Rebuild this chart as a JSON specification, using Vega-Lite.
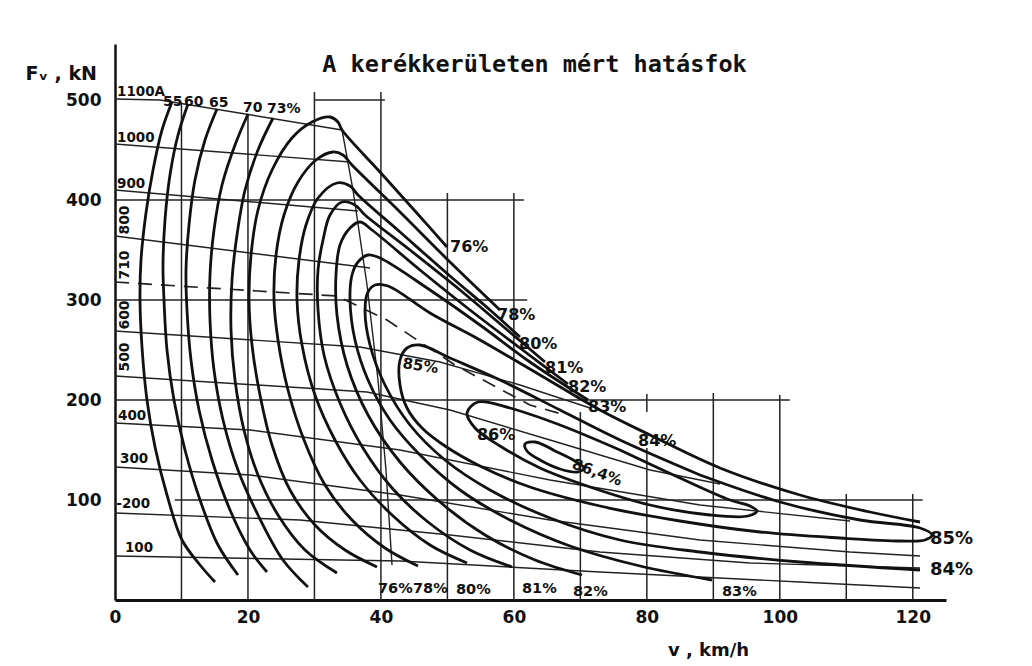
{
  "$schema": "https://vega.github.io/schema/vega-lite/v6.json",
  "width": 831,
  "height": 556,
  "autosize": "none",
  "padding": {"left": 115, "top": 44, "right": 86, "bottom": 66},
  "background": "white",
  "config": {"view": {"stroke": null}, "font": "DejaVu Sans"},
  "title": {"text": "A  kerékkerületen  mért  hatásfok", "font": "DejaVu Sans Mono", "fontSize": 23.5, "fontWeight": "bold", "color": "#111", "anchor": "middle", "dx": 4, "dy": 51, "offset": 0, "baseline": "alphabetic"},
  "encoding": {
    "x": {"field": "v", "type": "quantitative", "scale": {"domain": [0, 125], "nice": false, "zero": false},
      "axis": {"values": [0, 20, 40, 60, 80, 100, 120], "ticks": false, "grid": false, "labelFontSize": 17, "labelFontWeight": "bold", "labelPadding": 9, "labelColor": "#111", "labelFlush": false, "labelOverlap": false, "domainColor": "#111", "domainWidth": 3, "title": "v , km/h", "titleX": 593, "titleY": 55, "titleAngle": 0, "titleBaseline": "alphabetic", "titleAlign": "center", "titleFontSize": 18, "titleFontWeight": "bold", "titleColor": "#111"}},
    "y": {"field": "F", "type": "quantitative", "scale": {"domain": [0, 556], "nice": false, "zero": false},
      "axis": {"values": [100, 200, 300, 400, 500], "ticks": false, "grid": false, "labelFontSize": 17, "labelFontWeight": "bold", "labelPadding": 14, "labelColor": "#111", "labelOverlap": false, "domainColor": "#111", "domainWidth": 2.5, "title": "Fᵥ , kN", "titleX": -90, "titleY": 35, "titleAngle": 0, "titleAlign": "left", "titleBaseline": "alphabetic", "titleFontSize": 19, "titleFontWeight": "bold", "titleColor": "#111"}}
  },
  "layer": [
    {
      "data": {"values": [
        {"v": 10, "F": 0, "v2": 10, "F2": 496},
        {"v": 20, "F": 0, "v2": 20, "F2": 486},
        {"v": 30, "F": 0, "v2": 30, "F2": 508},
        {"v": 40, "F": 0, "v2": 40, "F2": 508},
        {"v": 50, "F": 0, "v2": 50, "F2": 407},
        {"v": 60, "F": 0, "v2": 60, "F2": 407},
        {"v": 70, "F": 0, "v2": 70, "F2": 188},
        {"v": 80, "F": 0, "v2": 80, "F2": 152},
        {"v": 80, "F": 188, "v2": 80, "F2": 206},
        {"v": 90, "F": 0, "v2": 90, "F2": 207},
        {"v": 100, "F": 0, "v2": 100, "F2": 205},
        {"v": 110, "F": 0, "v2": 110, "F2": 106},
        {"v": 120, "F": 0, "v2": 120, "F2": 106},
        {"v": 30, "F": 500, "v2": 40.6, "F2": 500},
        {"v": 0, "F": 400, "v2": 61.5, "F2": 400},
        {"v": 0, "F": 300, "v2": 62, "F2": 300},
        {"v": 0, "F": 200, "v2": 101.5, "F2": 200},
        {"v": 9, "F": 100, "v2": 121.5, "F2": 100}
      ]},
      "mark": {"type": "rule", "strokeWidth": 1.5, "color": "#222"},
      "encoding": {"x2": {"field": "v2"}, "y2": {"field": "F2"}}
    },
    {
      "data": {"values": [
        {"c": "1100A", "i": 0, "v": 0, "F": 501}, {"c": "1100A", "i": 1, "v": 6.77, "F": 500}, {"c": "1100A", "i": 2, "v": 34.15, "F": 470},
        {"c": "1000A", "i": 0, "v": 0, "F": 456}, {"c": "1000A", "i": 1, "v": 35.35, "F": 438},
        {"c": "900A", "i": 0, "v": 0, "F": 410}, {"c": "900A", "i": 1, "v": 36.55, "F": 389},
        {"c": "800A", "i": 0, "v": 0, "F": 364}, {"c": "800A", "i": 1, "v": 38.36, "F": 332},
        {"c": "600A", "i": 0, "v": 0, "F": 269}, {"c": "600A", "i": 1, "v": 36.85, "F": 253}, {"c": "600A", "i": 2, "v": 48.89, "F": 238}, {"c": "600A", "i": 3, "v": 60.92, "F": 215}, {"c": "600A", "i": 4, "v": 71.45, "F": 192},
        {"c": "500A", "i": 0, "v": 0, "F": 224}, {"c": "500A", "i": 1, "v": 37.91, "F": 208}, {"c": "500A", "i": 2, "v": 50.39, "F": 190}, {"c": "500A", "i": 3, "v": 65.43, "F": 160}, {"c": "500A", "i": 4, "v": 80.48, "F": 130}, {"c": "500A", "i": 5, "v": 91.0, "F": 116},
        {"c": "400A", "i": 0, "v": 0, "F": 177}, {"c": "400A", "i": 1, "v": 20.31, "F": 170}, {"c": "400A", "i": 2, "v": 42.87, "F": 150}, {"c": "400A", "i": 3, "v": 65.43, "F": 120}, {"c": "400A", "i": 4, "v": 88.0, "F": 95}, {"c": "400A", "i": 5, "v": 110.56, "F": 79},
        {"c": "300A", "i": 0, "v": 0, "F": 133}, {"c": "300A", "i": 1, "v": 20.31, "F": 125}, {"c": "300A", "i": 2, "v": 42.87, "F": 105}, {"c": "300A", "i": 3, "v": 65.43, "F": 80}, {"c": "300A", "i": 4, "v": 88.0, "F": 60}, {"c": "300A", "i": 5, "v": 110.56, "F": 48}, {"c": "300A", "i": 6, "v": 121.09, "F": 44},
        {"c": "200A", "i": 0, "v": 0, "F": 87}, {"c": "200A", "i": 1, "v": 27.83, "F": 80}, {"c": "200A", "i": 2, "v": 50.39, "F": 65}, {"c": "200A", "i": 3, "v": 72.95, "F": 48}, {"c": "200A", "i": 4, "v": 95.52, "F": 37}, {"c": "200A", "i": 5, "v": 121.09, "F": 32},
        {"c": "100A", "i": 0, "v": 0, "F": 44}, {"c": "100A", "i": 1, "v": 42.87, "F": 39}, {"c": "100A", "i": 2, "v": 72.95, "F": 28}, {"c": "100A", "i": 3, "v": 103.04, "F": 18}, {"c": "100A", "i": 4, "v": 121.09, "F": 12},
        {"c": "slant", "i": 0, "v": 34.15, "F": 470}, {"c": "slant", "i": 1, "v": 35.8, "F": 410}, {"c": "slant", "i": 2, "v": 37.91, "F": 315}, {"c": "slant", "i": 3, "v": 39.56, "F": 220}, {"c": "slant", "i": 4, "v": 40.76, "F": 130}, {"c": "slant", "i": 5, "v": 41.67, "F": 35}
      ]},
      "mark": {"type": "line", "strokeWidth": 1.4, "color": "#222"},
      "encoding": {"detail": {"field": "c"}, "order": {"field": "i", "type": "quantitative"}}
    },
    {
      "data": {"values": [
        {"c": "710A", "i": 0, "v": 0, "F": 318}, {"c": "710A", "i": 1, "v": 33.39, "F": 304}, {"c": "710A", "i": 2, "v": 40.91, "F": 280}, {"c": "710A", "i": 3, "v": 51.14, "F": 235}, {"c": "710A", "i": 4, "v": 62.42, "F": 195}, {"c": "710A", "i": 5, "v": 67.69, "F": 185}
      ]},
      "mark": {"type": "line", "strokeWidth": 1.7, "color": "#222", "strokeDash": [14, 9]},
      "encoding": {"detail": {"field": "c"}, "order": {"field": "i", "type": "quantitative"}}
    },
    {
      "data": {"values": [
        {"c": "55", "i": 0, "v": 8.57, "F": 498}, {"c": "55", "i": 1, "v": 7.07, "F": 470}, {"c": "55", "i": 2, "v": 5.72, "F": 430}, {"c": "55", "i": 3, "v": 4.66, "F": 387}, {"c": "55", "i": 4, "v": 3.91, "F": 340}, {"c": "55", "i": 5, "v": 3.76, "F": 300}, {"c": "55", "i": 6, "v": 4.06, "F": 253}, {"c": "55", "i": 7, "v": 4.81, "F": 200}, {"c": "55", "i": 8, "v": 6.02, "F": 153}, {"c": "55", "i": 9, "v": 7.82, "F": 105}, {"c": "55", "i": 10, "v": 10.08, "F": 60}, {"c": "55", "i": 11, "v": 12.79, "F": 35}, {"c": "55", "i": 12, "v": 15.04, "F": 18},
        {"c": "60", "i": 0, "v": 10.98, "F": 496}, {"c": "60", "i": 1, "v": 9.48, "F": 465}, {"c": "60", "i": 2, "v": 8.27, "F": 425}, {"c": "60", "i": 3, "v": 7.52, "F": 380}, {"c": "60", "i": 4, "v": 7.22, "F": 335}, {"c": "60", "i": 5, "v": 7.37, "F": 300}, {"c": "60", "i": 6, "v": 7.82, "F": 250}, {"c": "60", "i": 7, "v": 8.87, "F": 200}, {"c": "60", "i": 8, "v": 10.53, "F": 150}, {"c": "60", "i": 9, "v": 12.79, "F": 100}, {"c": "60", "i": 10, "v": 15.49, "F": 55}, {"c": "60", "i": 11, "v": 18.5, "F": 25},
        {"c": "65", "i": 0, "v": 15.34, "F": 491}, {"c": "65", "i": 1, "v": 13.54, "F": 460}, {"c": "65", "i": 2, "v": 12.03, "F": 420}, {"c": "65", "i": 3, "v": 11.13, "F": 375}, {"c": "65", "i": 4, "v": 10.68, "F": 330}, {"c": "65", "i": 5, "v": 10.83, "F": 290}, {"c": "65", "i": 6, "v": 11.43, "F": 240}, {"c": "65", "i": 7, "v": 12.64, "F": 190}, {"c": "65", "i": 8, "v": 14.59, "F": 140}, {"c": "65", "i": 9, "v": 17.3, "F": 90}, {"c": "65", "i": 10, "v": 20.31, "F": 50}, {"c": "65", "i": 11, "v": 22.86, "F": 28},
        {"c": "70", "i": 0, "v": 20.01, "F": 486}, {"c": "70", "i": 1, "v": 18.05, "F": 455}, {"c": "70", "i": 2, "v": 16.1, "F": 415}, {"c": "70", "i": 3, "v": 14.89, "F": 370}, {"c": "70", "i": 4, "v": 14.29, "F": 325}, {"c": "70", "i": 5, "v": 14.29, "F": 280}, {"c": "70", "i": 6, "v": 14.89, "F": 230}, {"c": "70", "i": 7, "v": 16.25, "F": 180}, {"c": "70", "i": 8, "v": 18.5, "F": 130}, {"c": "70", "i": 9, "v": 21.51, "F": 85}, {"c": "70", "i": 10, "v": 25.27, "F": 40}, {"c": "70", "i": 11, "v": 29.03, "F": 13},
        {"c": "73", "i": 0, "v": 23.77, "F": 482}, {"c": "73", "i": 1, "v": 21.51, "F": 450}, {"c": "73", "i": 2, "v": 19.56, "F": 410}, {"c": "73", "i": 3, "v": 18.35, "F": 365}, {"c": "73", "i": 4, "v": 17.6, "F": 320}, {"c": "73", "i": 5, "v": 17.45, "F": 270}, {"c": "73", "i": 6, "v": 18.05, "F": 220}, {"c": "73", "i": 7, "v": 19.4, "F": 170}, {"c": "73", "i": 8, "v": 21.51, "F": 125}, {"c": "73", "i": 9, "v": 24.52, "F": 85}, {"c": "73", "i": 10, "v": 28.58, "F": 50}, {"c": "73", "i": 11, "v": 33.39, "F": 27},
        {"c": "76", "i": 0, "v": 39.41, "F": 33}, {"c": "76", "i": 1, "v": 34.6, "F": 50}, {"c": "76", "i": 2, "v": 30.08, "F": 75}, {"c": "76", "i": 3, "v": 26.32, "F": 110}, {"c": "76", "i": 4, "v": 23.62, "F": 155}, {"c": "76", "i": 5, "v": 21.81, "F": 205}, {"c": "76", "i": 6, "v": 20.61, "F": 255}, {"c": "76", "i": 7, "v": 20.16, "F": 300}, {"c": "76", "i": 8, "v": 20.46, "F": 345}, {"c": "76", "i": 9, "v": 21.51, "F": 390}, {"c": "76", "i": 10, "v": 23.62, "F": 430}, {"c": "76", "i": 11, "v": 26.62, "F": 462}, {"c": "76", "i": 12, "v": 29.63, "F": 478}, {"c": "76", "i": 13, "v": 32.34, "F": 483}, {"c": "76", "i": 14, "v": 33.54, "F": 478}, {"c": "76", "i": 15, "v": 34.15, "F": 470}, {"c": "76", "i": 16, "v": 39.86, "F": 428}, {"c": "76", "i": 17, "v": 45.13, "F": 389}, {"c": "76", "i": 18, "v": 49.94, "F": 353},
        {"c": "78", "i": 0, "v": 45.58, "F": 34}, {"c": "78", "i": 1, "v": 40.61, "F": 52}, {"c": "78", "i": 2, "v": 35.65, "F": 80}, {"c": "78", "i": 3, "v": 31.59, "F": 115}, {"c": "78", "i": 4, "v": 28.43, "F": 160}, {"c": "78", "i": 5, "v": 26.02, "F": 210}, {"c": "78", "i": 6, "v": 24.52, "F": 260}, {"c": "78", "i": 7, "v": 23.92, "F": 300}, {"c": "78", "i": 8, "v": 24.22, "F": 345}, {"c": "78", "i": 9, "v": 25.42, "F": 385}, {"c": "78", "i": 10, "v": 27.53, "F": 418}, {"c": "78", "i": 11, "v": 30.23, "F": 440}, {"c": "78", "i": 12, "v": 32.79, "F": 448}, {"c": "78", "i": 13, "v": 34.3, "F": 445}, {"c": "78", "i": 14, "v": 35.65, "F": 435}, {"c": "78", "i": 15, "v": 42.87, "F": 388}, {"c": "78", "i": 16, "v": 50.39, "F": 338}, {"c": "78", "i": 17, "v": 57.91, "F": 290},
        {"c": "80", "i": 0, "v": 52.95, "F": 37}, {"c": "80", "i": 1, "v": 47.38, "F": 55}, {"c": "80", "i": 2, "v": 41.67, "F": 85}, {"c": "80", "i": 3, "v": 36.85, "F": 120}, {"c": "80", "i": 4, "v": 33.09, "F": 160}, {"c": "80", "i": 5, "v": 30.08, "F": 205}, {"c": "80", "i": 6, "v": 28.13, "F": 255}, {"c": "80", "i": 7, "v": 27.38, "F": 300}, {"c": "80", "i": 8, "v": 27.68, "F": 340}, {"c": "80", "i": 9, "v": 28.73, "F": 375}, {"c": "80", "i": 10, "v": 30.54, "F": 402}, {"c": "80", "i": 11, "v": 33.39, "F": 417}, {"c": "80", "i": 12, "v": 35.35, "F": 414}, {"c": "80", "i": 13, "v": 36.55, "F": 405}, {"c": "80", "i": 14, "v": 42.87, "F": 368}, {"c": "80", "i": 15, "v": 50.39, "F": 324}, {"c": "80", "i": 16, "v": 56.41, "F": 290}, {"c": "80", "i": 17, "v": 60.92, "F": 263},
        {"c": "81", "i": 0, "v": 59.72, "F": 33}, {"c": "81", "i": 1, "v": 53.4, "F": 50}, {"c": "81", "i": 2, "v": 47.08, "F": 78}, {"c": "81", "i": 3, "v": 41.67, "F": 112}, {"c": "81", "i": 4, "v": 37.3, "F": 152}, {"c": "81", "i": 5, "v": 33.84, "F": 197}, {"c": "81", "i": 6, "v": 31.44, "F": 245}, {"c": "81", "i": 7, "v": 30.54, "F": 290}, {"c": "81", "i": 8, "v": 30.54, "F": 330}, {"c": "81", "i": 9, "v": 31.29, "F": 360}, {"c": "81", "i": 10, "v": 32.34, "F": 385}, {"c": "81", "i": 11, "v": 34.15, "F": 398}, {"c": "81", "i": 12, "v": 36.1, "F": 395}, {"c": "81", "i": 13, "v": 37.61, "F": 385}, {"c": "81", "i": 14, "v": 44.37, "F": 350}, {"c": "81", "i": 15, "v": 51.9, "F": 310}, {"c": "81", "i": 16, "v": 58.66, "F": 272}, {"c": "81", "i": 17, "v": 64.68, "F": 238},
        {"c": "82", "i": 0, "v": 70.25, "F": 25}, {"c": "82", "i": 1, "v": 63.18, "F": 40}, {"c": "82", "i": 2, "v": 55.66, "F": 65}, {"c": "82", "i": 3, "v": 48.89, "F": 98}, {"c": "82", "i": 4, "v": 42.87, "F": 138}, {"c": "82", "i": 5, "v": 38.06, "F": 185}, {"c": "82", "i": 6, "v": 34.9, "F": 235}, {"c": "82", "i": 7, "v": 33.39, "F": 285}, {"c": "82", "i": 8, "v": 33.24, "F": 325}, {"c": "82", "i": 9, "v": 33.84, "F": 355}, {"c": "82", "i": 10, "v": 35.35, "F": 372}, {"c": "82", "i": 11, "v": 36.85, "F": 378}, {"c": "82", "i": 12, "v": 38.66, "F": 370}, {"c": "82", "i": 13, "v": 45.88, "F": 330}, {"c": "82", "i": 14, "v": 53.4, "F": 290}, {"c": "82", "i": 15, "v": 60.92, "F": 252}, {"c": "82", "i": 16, "v": 68.14, "F": 216},
        {"c": "83", "i": 0, "v": 89.8, "F": 20}, {"c": "83", "i": 1, "v": 78.97, "F": 34}, {"c": "83", "i": 2, "v": 68.44, "F": 54}, {"c": "83", "i": 3, "v": 59.42, "F": 80}, {"c": "83", "i": 4, "v": 51.9, "F": 110}, {"c": "83", "i": 5, "v": 45.88, "F": 145}, {"c": "83", "i": 6, "v": 41.37, "F": 180}, {"c": "83", "i": 7, "v": 38.06, "F": 220}, {"c": "83", "i": 8, "v": 36.1, "F": 260}, {"c": "83", "i": 9, "v": 35.35, "F": 300}, {"c": "83", "i": 10, "v": 35.65, "F": 325}, {"c": "83", "i": 11, "v": 36.55, "F": 338}, {"c": "83", "i": 12, "v": 38.06, "F": 345}, {"c": "83", "i": 13, "v": 39.86, "F": 342}, {"c": "83", "i": 14, "v": 47.38, "F": 310}, {"c": "83", "i": 15, "v": 54.9, "F": 275}, {"c": "83", "i": 16, "v": 62.42, "F": 238}, {"c": "83", "i": 17, "v": 71.15, "F": 200},
        {"c": "84", "i": 0, "v": 121.09, "F": 30}, {"c": "84", "i": 1, "v": 103.04, "F": 38}, {"c": "84", "i": 2, "v": 88.0, "F": 48}, {"c": "84", "i": 3, "v": 75.96, "F": 60}, {"c": "84", "i": 4, "v": 65.43, "F": 82}, {"c": "84", "i": 5, "v": 56.41, "F": 110}, {"c": "84", "i": 6, "v": 49.64, "F": 140}, {"c": "84", "i": 7, "v": 44.37, "F": 175}, {"c": "84", "i": 8, "v": 40.61, "F": 215}, {"c": "84", "i": 9, "v": 38.36, "F": 255}, {"c": "84", "i": 10, "v": 37.61, "F": 290}, {"c": "84", "i": 11, "v": 38.06, "F": 308}, {"c": "84", "i": 12, "v": 39.11, "F": 315}, {"c": "84", "i": 13, "v": 41.07, "F": 314}, {"c": "84", "i": 14, "v": 47.38, "F": 287}, {"c": "84", "i": 15, "v": 54.9, "F": 260}, {"c": "84", "i": 16, "v": 63.93, "F": 225}, {"c": "84", "i": 17, "v": 72.95, "F": 190}, {"c": "84", "i": 18, "v": 80.48, "F": 165}, {"c": "84", "i": 19, "v": 91.0, "F": 132}, {"c": "84", "i": 20, "v": 103.04, "F": 105}, {"c": "84", "i": 21, "v": 113.57, "F": 88}, {"c": "84", "i": 22, "v": 121.09, "F": 78},
        {"c": "85", "i": 0, "v": 88.0, "F": 125}, {"c": "85", "i": 1, "v": 100.03, "F": 98}, {"c": "85", "i": 2, "v": 112.06, "F": 80}, {"c": "85", "i": 3, "v": 121.09, "F": 72}, {"c": "85", "i": 4, "v": 122.89, "F": 65}, {"c": "85", "i": 5, "v": 121.84, "F": 60}, {"c": "85", "i": 6, "v": 118.08, "F": 59}, {"c": "85", "i": 7, "v": 109.06, "F": 62}, {"c": "85", "i": 8, "v": 97.02, "F": 68}, {"c": "85", "i": 9, "v": 84.99, "F": 79}, {"c": "85", "i": 10, "v": 72.95, "F": 94}, {"c": "85", "i": 11, "v": 62.42, "F": 113}, {"c": "85", "i": 12, "v": 54.9, "F": 134}, {"c": "85", "i": 13, "v": 49.64, "F": 154}, {"c": "85", "i": 14, "v": 46.18, "F": 172}, {"c": "85", "i": 15, "v": 43.92, "F": 192}, {"c": "85", "i": 16, "v": 42.87, "F": 215}, {"c": "85", "i": 17, "v": 42.87, "F": 240}, {"c": "85", "i": 18, "v": 43.92, "F": 252}, {"c": "85", "i": 19, "v": 45.88, "F": 255}, {"c": "85", "i": 20, "v": 50.39, "F": 242}, {"c": "85", "i": 21, "v": 57.91, "F": 220}, {"c": "85", "i": 22, "v": 66.94, "F": 190}, {"c": "85", "i": 23, "v": 75.96, "F": 160}, {"c": "85", "i": 24, "v": 88.0, "F": 125},
        {"c": "86", "i": 0, "v": 75.96, "F": 150}, {"c": "86", "i": 1, "v": 84.99, "F": 122}, {"c": "86", "i": 2, "v": 92.51, "F": 100}, {"c": "86", "i": 3, "v": 95.52, "F": 94}, {"c": "86", "i": 4, "v": 96.57, "F": 89}, {"c": "86", "i": 5, "v": 95.22, "F": 84}, {"c": "86", "i": 6, "v": 89.5, "F": 85}, {"c": "86", "i": 7, "v": 80.48, "F": 95}, {"c": "86", "i": 8, "v": 71.45, "F": 113}, {"c": "86", "i": 9, "v": 63.93, "F": 132}, {"c": "86", "i": 10, "v": 57.91, "F": 154}, {"c": "86", "i": 11, "v": 54.15, "F": 172}, {"c": "86", "i": 12, "v": 52.95, "F": 187}, {"c": "86", "i": 13, "v": 54.6, "F": 198}, {"c": "86", "i": 14, "v": 59.42, "F": 192}, {"c": "86", "i": 15, "v": 66.94, "F": 175}, {"c": "86", "i": 16, "v": 75.96, "F": 150},
        {"c": "86.4", "i": 0, "v": 66.19, "F": 149}, {"c": "86.4", "i": 1, "v": 69.19, "F": 139}, {"c": "86.4", "i": 2, "v": 70.55, "F": 132}, {"c": "86.4", "i": 3, "v": 69.65, "F": 128}, {"c": "86.4", "i": 4, "v": 66.94, "F": 131}, {"c": "86.4", "i": 5, "v": 63.93, "F": 140}, {"c": "86.4", "i": 6, "v": 61.97, "F": 149}, {"c": "86.4", "i": 7, "v": 61.67, "F": 156}, {"c": "86.4", "i": 8, "v": 63.18, "F": 158}, {"c": "86.4", "i": 9, "v": 66.19, "F": 149}
      ]},
      "mark": {"type": "line", "strokeWidth": 2.8, "color": "#111", "interpolate": "catmull-rom"},
      "encoding": {"detail": {"field": "c"}, "order": {"field": "i", "type": "quantitative"}}
    },
    {
      "data": {"values": [
        {"v": 0.3, "F": 504, "t": "1100A"},
        {"v": 0.3, "F": 458, "t": "1000"},
        {"v": 0.3, "F": 412, "t": "900"},
        {"v": 0.45, "F": 180, "t": "400"},
        {"v": 0.75, "F": 137, "t": "300"},
        {"v": 0.2, "F": 92, "t": "-200"},
        {"v": 1.5, "F": 48, "t": "100"}
      ]},
      "mark": {"type": "text", "align": "left", "baseline": "alphabetic", "fontSize": 13.5, "fontWeight": "bold", "color": "#111"},
      "encoding": {"text": {"field": "t"}}
    },
    {
      "data": {"values": [
        {"v": 7.22, "F": 494, "t": "55"},
        {"v": 10.38, "F": 494, "t": "60"},
        {"v": 14.14, "F": 493, "t": "65"},
        {"v": 19.25, "F": 488, "t": "70"},
        {"v": 22.86, "F": 487, "t": "73%"}
      ]},
      "mark": {"type": "text", "align": "left", "baseline": "alphabetic", "fontSize": 14, "fontWeight": "bold", "color": "#111"},
      "encoding": {"text": {"field": "t"}}
    },
    {
      "data": {"values": [
        {"v": 1.5, "F": 380, "t": "800"},
        {"v": 1.5, "F": 335, "t": "710"},
        {"v": 1.5, "F": 285, "t": "600"},
        {"v": 1.5, "F": 243, "t": "500"}
      ]},
      "mark": {"type": "text", "align": "center", "baseline": "middle", "angle": 270, "fontSize": 14, "fontWeight": "bold", "color": "#111"},
      "encoding": {"text": {"field": "t"}}
    },
    {
      "data": {"values": [
        {"v": 50.39, "F": 348, "t": "76%"},
        {"v": 57.46, "F": 280, "t": "78%"},
        {"v": 60.77, "F": 251, "t": "80%"},
        {"v": 64.68, "F": 227, "t": "81%"},
        {"v": 68.14, "F": 208, "t": "82%"},
        {"v": 71.15, "F": 188, "t": "83%"},
        {"v": 78.67, "F": 154, "t": "84%"},
        {"v": 54.45, "F": 160, "t": "86%"}
      ]},
      "mark": {"type": "text", "align": "left", "baseline": "alphabetic", "fontSize": 16, "fontWeight": "bold", "color": "#111"},
      "encoding": {"text": {"field": "t"}}
    },
    {
      "data": {"values": [{"v": 43.17, "F": 232, "t": "85%"}]},
      "mark": {"type": "text", "align": "left", "baseline": "alphabetic", "angle": 8, "fontSize": 15, "fontWeight": "bold", "color": "#111"},
      "encoding": {"text": {"field": "t"}}
    },
    {
      "data": {"values": [{"v": 68.6, "F": 132, "t": "86,4%"}]},
      "mark": {"type": "text", "align": "left", "baseline": "alphabetic", "angle": 20, "fontSize": 15, "fontWeight": "bold", "color": "#111"},
      "encoding": {"text": {"field": "t"}}
    },
    {
      "data": {"values": [
        {"v": 39.56, "F": 7, "t": "76%"},
        {"v": 44.83, "F": 7, "t": "78%"},
        {"v": 51.29, "F": 6, "t": "80%"},
        {"v": 61.22, "F": 7, "t": "81%"},
        {"v": 68.89, "F": 4, "t": "82%"},
        {"v": 91.31, "F": 4, "t": "83%"}
      ]},
      "mark": {"type": "text", "align": "left", "baseline": "alphabetic", "fontSize": 14.5, "fontWeight": "bold", "color": "#111"},
      "encoding": {"text": {"field": "t"}}
    },
    {
      "data": {"values": [
        {"v": 122.59, "F": 56, "t": "85%"},
        {"v": 122.59, "F": 25, "t": "84%"}
      ]},
      "mark": {"type": "text", "align": "left", "baseline": "alphabetic", "fontSize": 18, "fontWeight": "bold", "color": "#111"},
      "encoding": {"text": {"field": "t"}}
    }
  ]
}
